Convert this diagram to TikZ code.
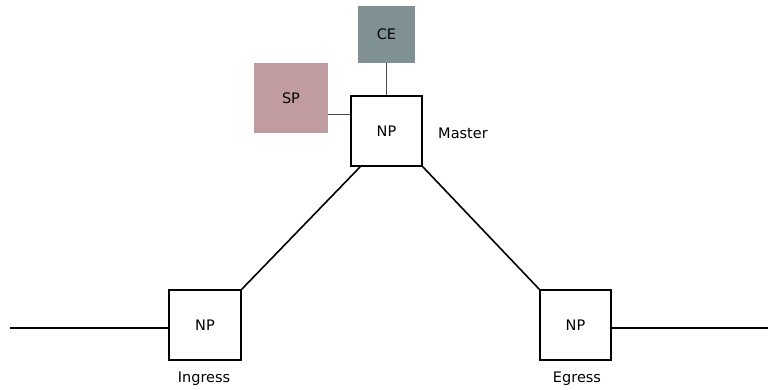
\documentclass[tikz,border=0pt]{standalone}
\usepackage{fontspec}
\setmainfont{DejaVu Sans}
\begin{document}
\begin{tikzpicture}[x=1pt,y=1pt,
  npbox/.style={draw=black,line width=1.6pt,fill=white,inner sep=0pt,font=\fontsize{14.5}{17}\selectfont},
  ctlbox/.style={draw=none,inner sep=0pt,font=\fontsize{14.5}{17}\selectfont},
  label/.style={font=\fontsize{14.5}{17}\selectfont},
  link/.style={line width=1.6pt},
  thin link/.style={line width=1pt,draw=black!70}]
\definecolor{cecol}{RGB}{127,145,146}
\definecolor{spcol}{RGB}{192,156,160}
\useasboundingbox (0,0) rectangle (768,390);
% control and service processors
\node[ctlbox,fill=cecol,minimum width=57pt,minimum height=57pt] (ce) at (386.5,355.5) {CE};
\node[ctlbox,fill=spcol,minimum width=74pt,minimum height=70pt] (sp) at (291,292) {SP};
% network processors
\node[npbox,minimum width=71pt,minimum height=70pt] (master) at (386.5,259) {NP};
\node[npbox,minimum width=72pt,minimum height=70pt] (ingress) at (205,65) {NP};
\node[npbox,minimum width=71pt,minimum height=70pt] (egress) at (575.5,65) {NP};
% labels
\node[label] (lmaster) at (463,257) {Master};
\node[label] (lingress) at (204,11) {Ingress};
\node[label] (legress) at (577,11) {Egress};
% open ends of the data path
\coordinate (in) at (10,62);
\coordinate (out) at (768,62);
% connectors
\draw[thin link] (ce.south) -- (master.north);
\draw[thin link] (sp.east |- 0,275) -- (master.west |- 0,275);
\draw[link] (in) -- (ingress.west |- in);
\draw[link] (egress.east |- out) -- (out);
\draw[link] (master.south west) ++(10,0) -- (ingress.north east);
\draw[link] (master.south east) -- (egress.north west);
\end{tikzpicture}
\end{document}
